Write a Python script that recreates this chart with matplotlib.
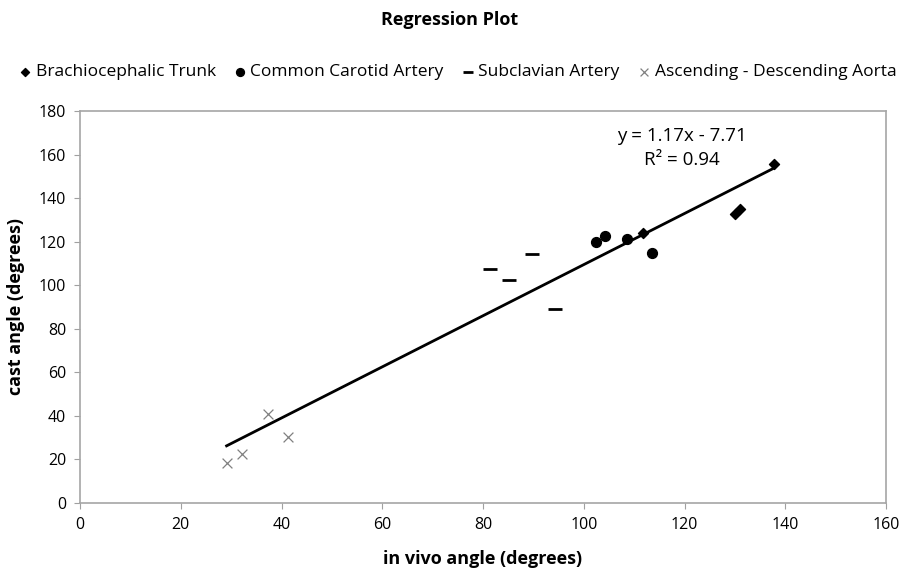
import numpy as np
import matplotlib.pyplot as plt

plt.rcParams['font.family'] = ['Open Sans', 'DejaVu Sans']

# leituras aproximadas do gráfico original
bct_x = [111.8, 130.0, 131.0, 137.8]
bct_y = [124.0, 132.5, 135.0, 155.5]
cca_x = [102.4, 104.2, 108.6, 113.5]
cca_y = [120.0, 122.5, 121.0, 115.0]
sca_x = [81.3, 85.1, 89.8, 94.2]
sca_y = [107.5, 102.5, 114.5, 89.0]
ada_x = [29.1, 32.1, 37.3, 41.2]
ada_y = [18.5, 22.5, 40.8, 30.3]

labels = ["Brachiocephalic Trunk", "Common Carotid Artery",
          "Subclavian Artery", "Ascending - Descending Aorta"]
fit_text = "y = 1.17x - 7.71\nR² = 0.94"

fig = plt.figure(figsize=(9, 5.7), dpi=100)
ax = fig.add_axes([80 / 900, 1 - 503 / 570, 806 / 900, 392 / 570])

ax.scatter(bct_x, bct_y, marker='D', s=26, color='black', label=labels[0], zorder=3)
ax.scatter(cca_x, cca_y, marker='o', s=50, color='black', label=labels[1], zorder=3)
ax.scatter(sca_x, sca_y, marker='_', s=90, linewidths=2, color='black', label=labels[2], zorder=3)
ax.scatter(ada_x, ada_y, marker='x', s=50, linewidths=0.9, color='#808080', label=labels[3], zorder=3)

# linha de tendência linear sobre todos os pontos
all_x = np.array(bct_x + cca_x + sca_x + ada_x)
all_y = np.array(bct_y + cca_y + sca_y + ada_y)
m, b = np.polyfit(all_x, all_y, 1)
xs = np.array([all_x.min(), all_x.max()])
ax.plot(xs, m * xs + b, color='black', linewidth=2, zorder=2)

ax.text(119.5, 163, fit_text, ha='center', va='center', fontsize=13.5, linespacing=1.45)

ax.set_xlim(0, 160)
ax.set_ylim(0, 180)
ax.set_xticks(range(0, 161, 20))
ax.set_yticks(range(0, 181, 20))
ax.tick_params(axis='both', labelsize=11.5, direction='out', length=4, color='#a0a0a0', pad=6)
for s in ax.spines.values():
    s.set_color('#a6a6a6')
    s.set_linewidth(1.2)

ax.set_xlabel("in vivo angle (degrees)", fontsize=13, fontweight='bold', labelpad=12)
ax.set_ylabel("cast angle (degrees)", fontsize=13, fontweight='bold', labelpad=10)

fig.text(0.5, 0.965, "Regression Plot", ha='center', va='center', fontsize=13, fontweight='bold')
fig.legend(loc='center', bbox_to_anchor=(0.507, 1 - 72 / 570), ncol=4, frameon=False,
           fontsize=12.5, handletextpad=0.1, columnspacing=0.9, handlelength=1.0,
           markerscale=0.8)

fig.savefig("out.png", dpi=100)
